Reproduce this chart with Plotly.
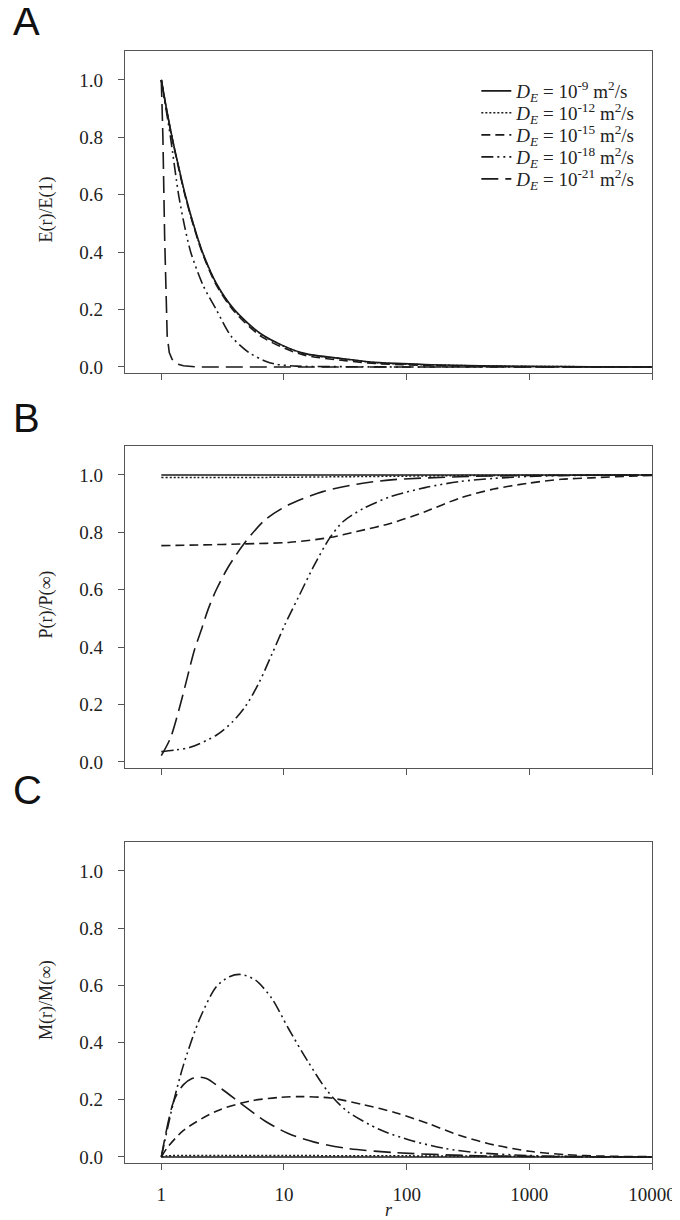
import plotly.graph_objects as go

# ---------------- data (log10 r, value) ----------------
series_names = [
    "<i>D<sub>E</sub></i> = 10<sup>-9</sup> m<sup>2</sup>/s",
    "<i>D<sub>E</sub></i> = 10<sup>-12</sup> m<sup>2</sup>/s",
    "<i>D<sub>E</sub></i> = 10<sup>-15</sup> m<sup>2</sup>/s",
    "<i>D<sub>E</sub></i> = 10<sup>-18</sup> m<sup>2</sup>/s",
    "<i>D<sub>E</sub></i> = 10<sup>-21</sup> m<sup>2</sup>/s",
]

# Panel A: E(r)/E(1)
A_9_logr = [0, 0.04, 0.088, 0.14, 0.195, 0.26, 0.336, 0.45, 0.595, 0.82, 1.14, 1.5, 1.78, 2.2, 2.6, 3.0, 3.5, 4.0]
A_9_val = [1.0, 0.905, 0.8, 0.70, 0.6, 0.5, 0.4, 0.29, 0.2, 0.113, 0.05, 0.028, 0.015, 0.008, 0.004, 0.002, 0.001, 0.0]
A_12_logr = [0, 0.04, 0.088, 0.14, 0.195, 0.26, 0.336, 0.45, 0.595, 0.82, 1.14, 1.5, 1.78, 2.2, 2.6, 3.0, 3.5, 4.0]
A_12_val = [1.0, 0.903, 0.798, 0.698, 0.598, 0.498, 0.398, 0.288, 0.198, 0.112, 0.049, 0.027, 0.014, 0.007, 0.004, 0.002, 0.001, 0.0]
A_15_logr = [0, 0.04, 0.088, 0.14, 0.195, 0.26, 0.336, 0.45, 0.595, 0.82, 1.14, 1.5, 1.78, 2.2, 2.6, 3.0, 3.5, 4.0]
A_15_val = [1.0, 0.903, 0.797, 0.695, 0.595, 0.495, 0.395, 0.284, 0.193, 0.105, 0.044, 0.022, 0.011, 0.005, 0.002, 0.001, 0.0, 0.0]
A_18_logr = [0, 0.035, 0.075, 0.141, 0.19, 0.24, 0.34, 0.448, 0.568, 0.715, 0.85, 0.93, 1.1, 1.5, 2.0, 3.0, 4.0]
A_18_val = [1.0, 0.908, 0.8, 0.6, 0.49, 0.4, 0.285, 0.2, 0.108, 0.05, 0.02, 0.01, 0.003, 0.001, 0.0, 0.0, 0.0]
A_21_logr = [0, 0.013, 0.027, 0.048, 0.065, 0.088, 0.12, 0.18, 0.3, 1.0, 2.0, 3.0, 4.0]
A_21_val = [1.0, 0.8, 0.456, 0.108, 0.05, 0.027, 0.012, 0.004, 0.0, 0.0, 0.0, 0.0, 0.0]

# Panel B: P(r)/P(inf)
B_9_logr = [0, 1, 2, 3, 4]
B_9_val = [1.0, 1.0, 1.0, 1.0, 1.0]
B_12_logr = [0, 0.5, 1.0, 1.5, 2.0, 2.5, 3.0, 4.0]
B_12_val = [0.991, 0.991, 0.992, 0.994, 0.996, 0.998, 0.999, 1.0]
B_15_logr = [0, 0.3, 0.677, 1.038, 1.372, 1.594, 1.873, 2.15, 2.43, 2.71, 2.985, 3.26, 3.5, 3.82, 4.0]
B_15_val = [0.754, 0.756, 0.76, 0.765, 0.782, 0.803, 0.832, 0.872, 0.919, 0.951, 0.971, 0.985, 0.99, 0.996, 0.998]
B_18_logr = [0, 0.12, 0.235, 0.448, 0.581, 0.688, 0.795, 0.901, 1.008, 1.115, 1.235, 1.372, 1.483, 1.65, 1.873, 2.15, 2.43, 2.71, 3.0, 3.5, 4.0]
B_18_val = [0.036, 0.042, 0.051, 0.093, 0.14, 0.195, 0.275, 0.375, 0.479, 0.572, 0.676, 0.78, 0.838, 0.884, 0.925, 0.956, 0.977, 0.988, 0.995, 0.999, 1.0]
B_21_logr = [0, 0.075, 0.155, 0.215, 0.27, 0.33, 0.38, 0.448, 0.541, 0.677, 0.844, 1.038, 1.316, 1.594, 1.873, 2.43, 3.0, 4.0]
B_21_val = [0.022, 0.084, 0.2, 0.3, 0.39, 0.465, 0.53, 0.60, 0.676, 0.762, 0.843, 0.896, 0.942, 0.968, 0.983, 0.994, 0.998, 1.0]

# Panel C: M(r)/M(inf)
C_9_logr = [0, 1, 2, 3, 4]
C_9_val = [0.0, 0.0, 0.0, 0.0, 0.0]
C_12_logr = [0, 0.05, 0.5, 1.0, 2.0, 3.0, 3.5, 4.0]
C_12_val = [0.0, 0.004, 0.005, 0.005, 0.004, 0.002, 0.001, 0.0]
C_15_logr = [0, 0.048, 0.181, 0.448, 0.715, 0.98, 1.14, 1.381, 1.648, 1.915, 2.18, 2.448, 2.715, 3.0, 3.3, 3.6, 4.0]
C_15_val = [0.0, 0.032, 0.093, 0.16, 0.195, 0.209, 0.211, 0.206, 0.183, 0.154, 0.116, 0.073, 0.042, 0.02, 0.008, 0.003, 0.001]
C_18_logr = [0, 0.101, 0.181, 0.315, 0.448, 0.555, 0.648, 0.768, 0.901, 1.035, 1.195, 1.355, 1.515, 1.78, 2.05, 2.31, 2.58, 3.0, 3.5, 4.0]
C_18_val = [0.0, 0.195, 0.322, 0.485, 0.595, 0.63, 0.638, 0.618, 0.554, 0.45, 0.334, 0.23, 0.16, 0.096, 0.056, 0.03, 0.015, 0.005, 0.001, 0.0]
C_21_logr = [0, 0.101, 0.181, 0.25, 0.301, 0.368, 0.501, 0.661, 0.848, 1.035, 1.248, 1.515, 1.915, 2.5, 3.0, 4.0]
C_21_val = [0.0, 0.195, 0.253, 0.274, 0.279, 0.274, 0.235, 0.183, 0.125, 0.082, 0.052, 0.03, 0.015, 0.005, 0.002, 0.0]

x_tickvals = [1, 10, 100, 1000, 10000]
x_ticktext = ["1", "10", "100", "1000", "10000"]
y_tickvals = [0.0, 0.2, 0.4, 0.6, 0.8, 1.0]
y_titles = ["E(r)/E(1)", "P(r)/P(\u221e)", "M(r)/M(\u221e)"]
panel_letters = ["A", "B", "C"]

# ---------------- styling ----------------
INK = "#1a1a1a"
AX = "#555555"
TXT = "#222222"
SERIF = "Liberation Serif"
dashes = ["solid", "2px,2px", "9px,5px", "12px,4px,2px,4px,2px,4px", "17px,7px"]
widths = [1.6, 1.5, 1.6, 1.6, 1.6]

panels = [
    [(A_9_logr, A_9_val), (A_12_logr, A_12_val), (A_15_logr, A_15_val), (A_18_logr, A_18_val), (A_21_logr, A_21_val)],
    [(B_9_logr, B_9_val), (B_12_logr, B_12_val), (B_15_logr, B_15_val), (B_18_logr, B_18_val), (B_21_logr, B_21_val)],
    [(C_9_logr, C_9_val), (C_12_logr, C_12_val), (C_15_logr, C_15_val), (C_18_logr, C_18_val), (C_21_logr, C_21_val)],
]

W, H = 680, 1220
ML, MR, MT, MB = 117, 26, 43, 65
plot_h = H - MT - MB
plot_w = W - ML - MR
panel_px = [(43, 365), (438, 760), (834, 1155)]
legend_rows_px = [83, 105, 127, 149, 171]
legend_keys = ["legend", "legend2", "legend3", "legend4", "legend5"]


def ydom(top, bot):
    return [(H - MB - bot) / plot_h, (H - MB - top) / plot_h]


def py(px):
    return (H - MB - px) / plot_h


def px_x(px):
    return (px - ML) / plot_w


fig = go.Figure()
for p, series in enumerate(panels):
    xa = "x" if p == 0 else f"x{p+1}"
    ya = "y" if p == 0 else f"y{p+1}"
    for i, (lr, vals) in enumerate(series):
        sharp = (p == 0 and i == 4)
        fig.add_trace(go.Scatter(
            x=[10 ** v for v in lr], y=vals, mode="lines",
            name=series_names[i], showlegend=(p == 0),
            legend=legend_keys[i],
            line=dict(color=INK, width=widths[i], dash=dashes[i],
                      shape="linear" if sharp else "spline", smoothing=0.8),
            xaxis=xa, yaxis=ya, hoverinfo="skip",
        ))

layout = dict(
    width=W, height=H,
    margin=dict(l=ML, r=MR, t=MT, b=MB),
    paper_bgcolor="white", plot_bgcolor="white",
    font=dict(family=SERIF, size=18, color=TXT),
    showlegend=True,
)
for i, key in enumerate(legend_keys):
    layout[key] = dict(
        x=px_x(475), y=py(legend_rows_px[i]), xanchor="left", yanchor="middle",
        font=dict(family=SERIF, size=19, color=TXT), bgcolor="rgba(0,0,0,0)",
        borderwidth=0,
    )

annotations = []
for p in range(3):
    top, bot = panel_px[p]
    xk = "xaxis" if p == 0 else f"xaxis{p+1}"
    yk = "yaxis" if p == 0 else f"yaxis{p+1}"
    ya = "y" if p == 0 else f"y{p+1}"
    xa = "x" if p == 0 else f"x{p+1}"
    layout[xk] = dict(
        type="log", range=[-0.296, 4], domain=[0, 1], anchor=ya,
        tickmode="array", tickvals=x_tickvals, ticktext=x_ticktext,
        showticklabels=(p == 2), ticks="outside", ticklen=6, tickwidth=1.2, tickcolor=AX,
        showline=True, linecolor=AX, linewidth=1.3, mirror=True,
        showgrid=False, zeroline=False,
        tickfont=dict(family=SERIF, size=19, color=TXT),
        ticklabelstandoff=8,
    )
    layout[yk] = dict(
        range=[-0.021, 1.101], domain=ydom(top, bot), anchor=xa,
        tickmode="array", tickvals=y_tickvals, tickformat=".1f",
        ticks="outside", ticklen=6, tickwidth=1.2, tickcolor=AX,
        showline=True, linecolor=AX, linewidth=1.3, mirror=True,
        showgrid=False, zeroline=False,
        tickfont=dict(family=SERIF, size=19, color=TXT),
        ticklabelstandoff=11,
    )
    annotations.append(dict(
        text=y_titles[p], xref="paper", yref="paper",
        x=px_x(37), y=py((top + bot) / 2 - 3),
        xanchor="center", yanchor="middle", textangle=-90, showarrow=False,
        font=dict(family=SERIF, size=18, color=TXT),
    ))

letter_mid = [13, 410, 782]
for p in range(3):
    annotations.append(dict(
        text=panel_letters[p], xref="paper", yref="paper",
        x=px_x(1), y=py(letter_mid[p]),
        xanchor="left", yanchor="middle", showarrow=False,
        font=dict(family="Liberation Sans", size=40, color="#111"),
    ))

annotations.append(dict(
    text="<i>r</i>", xref="paper", yref="paper",
    x=0.5, y=py(1202), xanchor="center", yanchor="middle",
    showarrow=False, font=dict(family=SERIF, size=18, color=TXT),
))

layout["annotations"] = annotations
fig.update_layout(**layout)
fig.write_html("out.html")
